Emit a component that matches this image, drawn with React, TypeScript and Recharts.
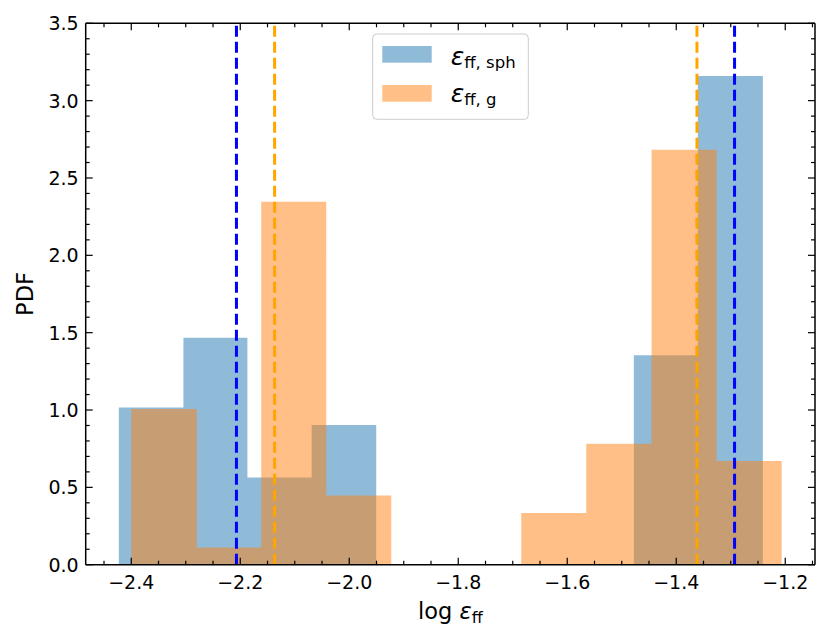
import { ComposedChart, Area, XAxis, YAxis, ReferenceLine } from "recharts";

// histogram bins (density, 10 bins each)
const blueEdges = [-2.4228, -2.3043, -2.1869, -2.0690, -1.9505, -1.8325, -1.7143, -1.5960, -1.4778, -1.3604, -1.2411];
const blueDensity = [1.016, 1.467, 0.564, 0.903, 0, 0, 0, 0, 1.354, 3.159];
const orangeEdges = [-2.4000, -2.2796, -2.1615, -2.0422, -1.9229, -1.8033, -1.6844, -1.5651, -1.4453, -1.3260, -1.2066];
const orangeDensity = [1.006, 0.112, 2.346, 0.447, 0, 0, 0.335, 0.782, 2.682, 0.670];

// dashed markers
const blueMarks = [-2.207, -1.293];
const orangeMarks = [-2.137, -1.362];

// ticks
const xMajor = [-2.4, -2.2, -2.0, -1.8, -1.6, -1.4, -1.2];
const xMinor = [-2.45, -2.35, -2.3, -2.25, -2.15, -2.1, -2.05, -1.95, -1.9, -1.85, -1.75, -1.7, -1.65,
  -1.55, -1.5, -1.45, -1.35, -1.3, -1.25, -1.15];
const yMajor = [0, 0.5, 1.0, 1.5, 2.0, 2.5, 3.0, 3.5];
const yMinor = [0.1, 0.2, 0.3, 0.4, 0.6, 0.7, 0.8, 0.9, 1.1, 1.2, 1.3, 1.4, 1.6, 1.7, 1.8, 1.9,
  2.1, 2.2, 2.3, 2.4, 2.6, 2.7, 2.8, 2.9, 3.1, 3.2, 3.3, 3.4];

const xTicks = [...xMajor, ...xMinor].sort((a, b) => a - b);
const yTicks = [...yMajor, ...yMinor].sort((a, b) => a - b);

// step rows: each edge carries the height of the bin to its right, last edge drops to 0
const blueRows = blueEdges.map((x, i) => ({ x, y: blueDensity[i] ?? 0 }));
const orangeRows = orangeEdges.map((x, i) => ({ x, y: orangeDensity[i] ?? 0 }));

const FONT = "DejaVu Sans";
const BLUE = "#1f77b4";
const ORANGE = "#ff7f0e";
const X_DOMAIN: [number, number] = [-2.4836, -1.1454];

const fmt = (v: number) => v.toFixed(1).replace("-", "\u2212");

const xTick = (side: "bottom" | "top") => (props: any) => {
  const { x, y, payload } = props;
  const major = xMajor.includes(payload.value);
  const len = major ? 7 : 4;
  const dir = side === "bottom" ? -1 : 1;
  return (
    <g>
      <line x1={x} x2={x} y1={y} y2={y + dir * len} stroke="#000" strokeWidth={1.2} />
      {side === "bottom" && major && (
        <text x={x} y={y + 24} textAnchor="middle" fontSize={19} fontFamily={FONT} fill="#000">
          {fmt(payload.value)}
        </text>
      )}
    </g>
  );
};

const yTick = (side: "left" | "right") => (props: any) => {
  const { x, y, payload } = props;
  const major = yMajor.includes(payload.value);
  const len = major ? 7 : 4;
  const dir = side === "left" ? 1 : -1;
  return (
    <g>
      <line x1={x} x2={x + dir * len} y1={y} y2={y} stroke="#000" strokeWidth={1.2} />
      {side === "left" && major && (
        <text x={x - 7} y={y + 7} textAnchor="end" fontSize={19} fontFamily={FONT} fill="#000">
          {fmt(payload.value)}
        </text>
      )}
    </g>
  );
};

const axisLine = { stroke: "#000", strokeWidth: 1.5 };

export default function App() {
  return (
    <div style={{ position: "absolute", left: 0, top: 0, width: 830, height: 642, background: "#fff" }}>
      <ComposedChart width={830} height={642} data={blueRows}
        margin={{ top: 22.3, right: 14, bottom: 37.3, left: 25.7 }}>
        <XAxis dataKey="x" type="number" domain={X_DOMAIN} allowDataOverflow ticks={xTicks} interval={0}
          tick={xTick("bottom")} tickLine={false} tickSize={0} tickMargin={0} axisLine={axisLine} height={40} />
        <XAxis xAxisId="top" dataKey="x" orientation="top" type="number" domain={X_DOMAIN} allowDataOverflow
          ticks={xTicks} interval={0} tick={xTick("top")} tickLine={false} tickSize={0} tickMargin={0}
          axisLine={axisLine} height={1} />
        <YAxis type="number" domain={[0, 3.5]} allowDataOverflow ticks={yTicks} interval={0}
          tick={yTick("left")} tickLine={false} tickSize={0} tickMargin={0} axisLine={axisLine} width={60} />
        <YAxis yAxisId="right" orientation="right" type="number" domain={[0, 3.5]} allowDataOverflow
          ticks={yTicks} interval={0} tick={yTick("right")} tickLine={false} tickSize={0} tickMargin={0}
          axisLine={axisLine} width={1} />

        <Area data={blueRows} dataKey="y" type="stepAfter" fill={BLUE} fillOpacity={0.5} stroke="none"
          isAnimationActive={false} activeDot={false} dot={false} />
        <Area data={orangeRows} dataKey="y" type="stepAfter" fill={ORANGE} fillOpacity={0.5} stroke="none"
          isAnimationActive={false} activeDot={false} dot={false} />

        {blueMarks.map((v) => (
          <ReferenceLine key={`bl${v}`} x={v} stroke="blue" strokeWidth={3} strokeDasharray="11 5" />
        ))}
        {orangeMarks.map((v) => (
          <ReferenceLine key={`ol${v}`} x={v} stroke="orange" strokeWidth={3} strokeDasharray="11 5" />
        ))}
      </ComposedChart>

      <svg width={830} height={642} style={{ position: "absolute", left: 0, top: 0, pointerEvents: "none" }}
        fontFamily={FONT}>
        <text x={450.4} y={619} textAnchor="middle" fontSize={22.5} fill="#000">
          log <tspan fontStyle="italic">ε</tspan><tspan fontSize={16} dy={4}>ff</tspan>
        </text>
        <text transform="translate(32.5 294) rotate(-90)" textAnchor="middle" fontSize={22.5} fill="#000">PDF</text>

        <rect x={372.7} y={34} width={155.6} height={85.3} rx={4} fill="#fff" fillOpacity={0.8}
          stroke="#cccccc" strokeWidth={1} />
        <rect x={382.3} y={46} width={49.4} height={16.7} fill={BLUE} fillOpacity={0.5} />
        <rect x={382.3} y={85} width={49.4} height={16.7} fill={ORANGE} fillOpacity={0.5} />
        <text x={450.7} y={65} fontSize={25} fill="#000">
          <tspan fontStyle="italic">ε</tspan><tspan fontSize={16.5} dy={3}>ff, sph</tspan>
        </text>
        <text x={450.7} y={102} fontSize={25} fill="#000">
          <tspan fontStyle="italic">ε</tspan><tspan fontSize={16.5} dy={3}>ff, g</tspan>
        </text>
      </svg>
    </div>
  );
}
